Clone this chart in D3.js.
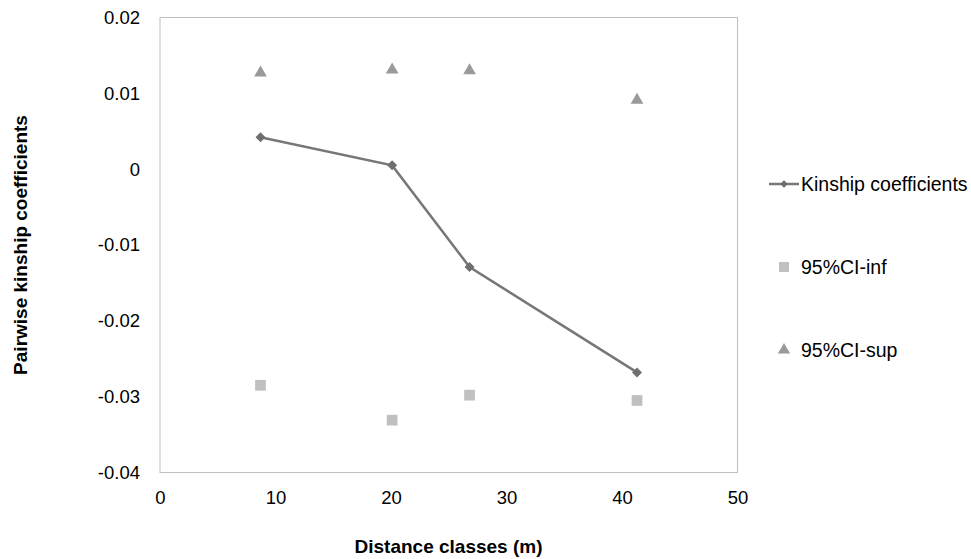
<!DOCTYPE html>
<html>
<head>
<meta charset="utf-8">
<script src="https://cdn.jsdelivr.net/npm/d3@7"></script>
<style>
  body { margin: 0; background: white; }
  text { font-family: "Liberation Sans", Arial, sans-serif; }
</style>
</head>
<body>
<div id="container"></div>
<script>
let distances = [8.7, 20.1, 26.8, 41.3];
let kinship = [0.0042, 0.0005, -0.0129, -0.0268];
let ciInf = [-0.0285, -0.0331, -0.0298, -0.0305];
let ciSup = [0.0127, 0.0131, 0.013, 0.0091];
let xTicks = [0, 10, 20, 30, 40, 50];
let yTicks = [0.02, 0.01, 0, -0.01, -0.02, -0.03, -0.04];
let seriesNames = ["Kinship coefficients", "95%CI-inf", "95%CI-sup"];

let w = 971;
let h = 559;

let viz = d3.select("#container")
  .append("svg")
    .attr("width", w)
    .attr("height", h)
    .style("background-color", "white")
;

let xScale = d3.scaleLinear().domain([0, 50]).range([160, 737.5]);
let yScale = d3.scaleLinear().domain([-0.04, 0.02]).range([472.5, 17.5]);

// plot frame
viz.append("rect")
    .attr("x", xScale(0))
    .attr("y", yScale(0.02))
    .attr("width", xScale(50) - xScale(0))
    .attr("height", yScale(-0.04) - yScale(0.02))
    .attr("fill", "none")
    .attr("stroke", "#bfbfbf")
    .attr("stroke-width", 1)
;

let yAxis = d3.axisLeft(yScale).tickValues(yTicks).tickSize(0).tickPadding(20)
    .tickFormat(d => String(d));
viz.append("g")
    .attr("transform", "translate(" + xScale(0) + ",0)")
    .call(yAxis)
    .call(g => g.select(".domain").remove())
    .selectAll("text")
      .attr("font-size", "18.5px")
      .attr("fill", "#000")
      .style("font-family", "'Liberation Sans', Arial, sans-serif")
;

let xAxis = d3.axisBottom(xScale).tickValues(xTicks).tickSize(0).tickPadding(18);
viz.append("g")
    .attr("transform", "translate(0," + yScale(-0.04) + ")")
    .call(xAxis)
    .call(g => g.select(".domain").remove())
    .selectAll("text")
      .attr("font-size", "18.5px")
      .attr("fill", "#000")
      .style("font-family", "'Liberation Sans', Arial, sans-serif")
;

// axis titles
viz.append("text")
    .text("Distance classes (m)")
    .attr("x", 448.5)
    .attr("y", 553)
    .attr("text-anchor", "middle")
    .attr("font-weight", "bold")
    .style("font-size", "19px")
;

viz.append("text")
    .text("Pairwise kinship coefficients")
    .attr("transform", "translate(27,245) rotate(-90)")
    .attr("text-anchor", "middle")
    .attr("font-weight", "bold")
    .style("font-size", "19px")
;

let points = distances.map((d, i) => ({x: d, k: kinship[i], inf: ciInf[i], sup: ciSup[i]}));

// excel-style diamond = square turned 45 degrees
let diamond = d3.symbol().type(d3.symbolSquare).size(50);
let square = d3.symbol().type(d3.symbolSquare).size(115);
let triangle = d3.symbol().type(d3.symbolTriangle).size(70);

// kinship line
viz.append("path")
    .datum(points)
    .attr("d", d3.line().x(d => xScale(d.x)).y(d => yScale(d.k)))
    .attr("fill", "none")
    .attr("stroke", "#777777")
    .attr("stroke-width", 2.5)
;

viz.selectAll(".kin").data(points).enter()
  .append("path")
    .classed("kin", true)
    .attr("d", diamond)
    .attr("transform", d => "translate(" + xScale(d.x) + "," + yScale(d.k) + ") rotate(45)")
    .attr("fill", "#6f6f6f")
;

viz.selectAll(".inf").data(points).enter()
  .append("path")
    .classed("inf", true)
    .attr("d", square)
    .attr("transform", d => "translate(" + xScale(d.x) + "," + yScale(d.inf) + ")")
    .attr("fill", "#c0c0c0")
;

viz.selectAll(".sup").data(points).enter()
  .append("path")
    .classed("sup", true)
    .attr("d", triangle)
    .attr("transform", d => "translate(" + xScale(d.x) + "," + yScale(d.sup) + ")")
    .attr("fill", "#9a9a9a")
;

// legend
let legend = viz.append("g");
let legendY = [184, 267, 350];

legend.append("line")
    .attr("x1", 769).attr("x2", 799)
    .attr("y1", legendY[0]).attr("y2", legendY[0])
    .attr("stroke", "#777777")
    .attr("stroke-width", 2.5)
;
legend.append("path")
    .attr("d", d3.symbol().type(d3.symbolSquare).size(30))
    .attr("transform", "translate(784," + legendY[0] + ") rotate(45)")
    .attr("fill", "#6f6f6f")
;
legend.append("path")
    .attr("d", d3.symbol().type(d3.symbolSquare).size(100))
    .attr("transform", "translate(784," + legendY[1] + ")")
    .attr("fill", "#c0c0c0")
;
legend.append("path")
    .attr("d", d3.symbol().type(d3.symbolTriangle).size(65))
    .attr("transform", "translate(784," + legendY[2] + ")")
    .attr("fill", "#9a9a9a")
;

legend.selectAll(".ltext").data(seriesNames).enter()
  .append("text")
    .classed("ltext", true)
    .text(d => d)
    .attr("x", 801)
    .attr("y", (d, i) => legendY[i])
    .attr("dy", "0.35em")
    .style("font-size", "19.5px")
    .attr("fill", "#000")
;
</script>
</body>
</html>
